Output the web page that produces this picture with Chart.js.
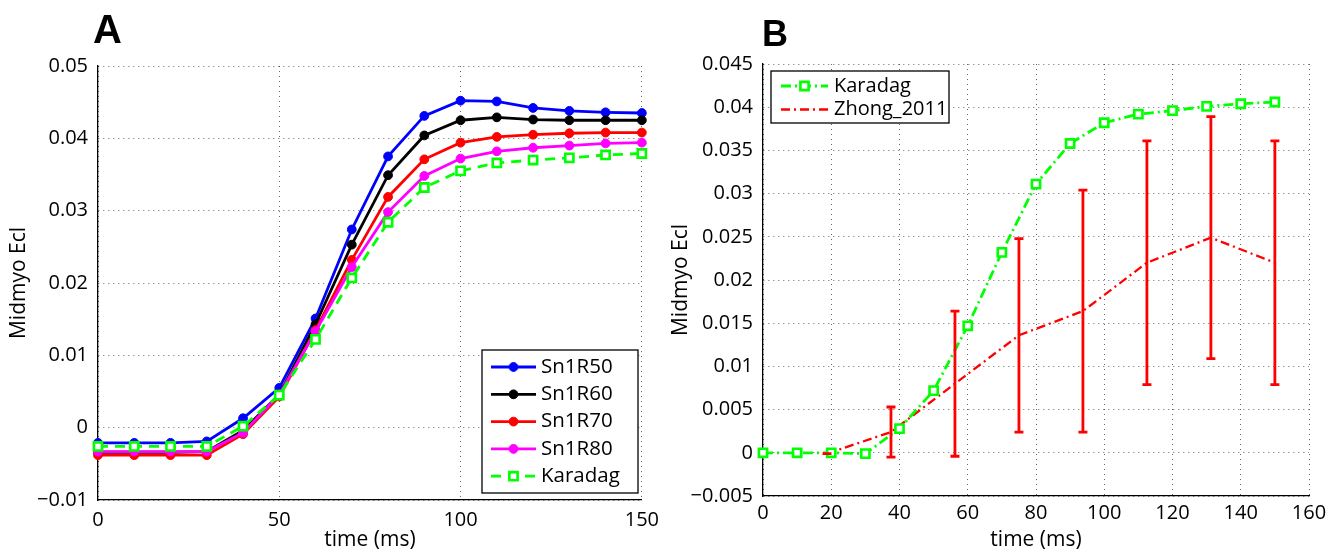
<!DOCTYPE html>
<html>
<head>
<meta charset="utf-8">
<script src="https://cdn.jsdelivr.net/npm/chart.js@4.4.0/dist/chart.umd.min.js"></script>
<style>
  body { margin: 0; background: #fff; }
  #wrap { position: relative; width: 1334px; height: 551px; overflow: hidden; }
  canvas { position: absolute; top: 0; }
  .panel { position: absolute; font-family: "Liberation Sans", Arial, sans-serif; font-weight: bold; color: #000; line-height: 1; }
</style>
</head>
<body>
<div id="wrap">
  <canvas id="chartA" width="667" height="551" style="left:0"></canvas>
  <canvas id="chartB" width="667" height="551" style="left:667px"></canvas>
  <div class="panel" style="left:93px;top:9px;font-size:40px">A</div>
  <div class="panel" style="left:762px;top:16px;font-size:36px">B</div>
</div>
<script>
// panel A
var timeA = [0, 10, 20, 30, 40, 50, 60, 70, 80, 90, 100, 110, 120, 130, 140, 150];
var sn1r50 = [-0.0021, -0.0021, -0.0021, -0.0019, 0.0013, 0.0055, 0.0151, 0.0274, 0.0375, 0.0431, 0.0452, 0.0451, 0.0442, 0.0438, 0.0436, 0.0435];
var sn1r60 = [-0.0034, -0.0034, -0.0034, -0.0033, -0.0004, 0.0046, 0.0143, 0.0253, 0.0349, 0.0404, 0.0425, 0.0429, 0.0426, 0.0425, 0.0425, 0.0425];
var sn1r70 = [-0.0038, -0.0038, -0.0038, -0.0038, -0.0009, 0.0043, 0.0135, 0.0232, 0.0319, 0.0371, 0.0394, 0.0402, 0.0405, 0.0407, 0.0408, 0.0408];
var sn1r80 = [-0.0033, -0.0033, -0.0033, -0.0033, -0.0007, 0.0046, 0.0133, 0.0222, 0.0298, 0.0348, 0.0372, 0.0382, 0.0387, 0.0390, 0.0393, 0.0394];
var karadagA = [-0.0026, -0.0026, -0.0026, -0.0026, 0.0002, 0.0045, 0.0122, 0.0207, 0.0284, 0.0332, 0.0355, 0.0366, 0.0370, 0.0373, 0.0377, 0.0379];

// panel B
var timeB = [0, 10, 20, 30, 40, 50, 60, 70, 80, 90, 100, 110, 120, 130, 140, 150];
var karadagB = [0, 0, 0, -0.0001, 0.0028, 0.0072, 0.0147, 0.0232, 0.0311, 0.0358, 0.0382, 0.0392, 0.0396, 0.0401, 0.0404, 0.0406];
var zhongTime = [18.75, 37.5, 56.25, 75, 93.75, 112.5, 131.25, 150];
var zhongMean = [-0.0001, 0.0024, 0.0080, 0.0136, 0.0164, 0.0220, 0.0249, 0.0220];
var zhongErr = [0, 0.0029, 0.0084, 0.0112, 0.0140, 0.0141, 0.0140, 0.0141];

var FONT = "'Open Sans', 'DejaVu Sans', sans-serif";

function pts(xs, ys) {
    return xs.map(function(x, i) { return {x: x, y: ys[i]}; });
}

function fmt(v) {
    return String(parseFloat(v.toFixed(4))).replace('-', '\u2212');
}

function solid(label, color, ys, order) {
    return {
        label: label, data: pts(timeA, ys), order: order,
        borderColor: color, backgroundColor: color, borderWidth: 2.8,
        pointStyle: 'circle', pointRadius: 4.4, pointBackgroundColor: color,
        pointBorderColor: color, pointBorderWidth: 1, tension: 0, clip: false
    };
}

// matlab style legend box, drawn inside the axes
var boxLegend = {
    id: 'boxLegend',
    afterDraw: function(chart, args, o) {
        var ctx = chart.ctx;
        ctx.save();
        ctx.fillStyle = '#fff';
        ctx.fillRect(o.x, o.y, o.w, o.h);
        ctx.strokeStyle = '#000';
        ctx.lineWidth = 1.3;
        ctx.strokeRect(o.x, o.y, o.w, o.h);
        chart.data.datasets.forEach(function(ds, i) {
            var y = o.y + o.first + i * o.gap;
            var x1 = o.x + o.s1, x2 = o.x + o.s2;
            ctx.save();
            ctx.strokeStyle = ds.borderColor;
            ctx.lineWidth = ds.borderWidth;
            ctx.setLineDash(ds.borderDash || []);
            ctx.beginPath();
            ctx.moveTo(x1, y);
            ctx.lineTo(x2, y);
            ctx.stroke();
            ctx.restore();
            if (ds.pointRadius > 0) {
                var cx = (x1 + x2) / 2;
                ctx.beginPath();
                if (ds.pointStyle === 'rect') {
                    var h = ds.pointRadius * Math.SQRT1_2;
                    ctx.rect(cx - h, y - h, 2 * h, 2 * h);
                } else {
                    ctx.arc(cx, y, ds.pointRadius, 0, Math.PI * 2);
                }
                ctx.fillStyle = ds.pointBackgroundColor;
                ctx.fill();
                ctx.lineWidth = ds.pointBorderWidth;
                ctx.strokeStyle = ds.pointBorderColor;
                ctx.stroke();
            }
            ctx.fillStyle = '#000';
            ctx.font = o.size + 'px ' + FONT;
            ctx.textBaseline = 'middle';
            ctx.fillText(ds.label, o.x + o.tx, y);
        });
        ctx.restore();
    }
};

var errorBars = {
    id: 'errorBars',
    afterDatasetsDraw: function(chart) {
        var ctx = chart.ctx, xs = chart.scales.x, ys = chart.scales.y;
        ctx.save();
        ctx.strokeStyle = '#ff0000';
        ctx.lineWidth = 2.8;
        for (var i = 0; i < zhongTime.length; i++) {
            var px = xs.getPixelForValue(zhongTime[i]);
            var top = ys.getPixelForValue(zhongMean[i] + zhongErr[i]);
            var bot = ys.getPixelForValue(zhongMean[i] - zhongErr[i]);
            ctx.beginPath();
            ctx.moveTo(px, top); ctx.lineTo(px, bot);
            ctx.moveTo(px - 4.5, top); ctx.lineTo(px + 4.5, top);
            ctx.moveTo(px - 4.5, bot); ctx.lineTo(px + 4.5, bot);
            ctx.stroke();
        }
        ctx.restore();
    }
};

function axes(xmin, xmax, xstep, ymin, ymax, ystep, yWidth, xHeight, yTitlePad, xTickPad) {
    var grid = {color: 'rgba(0,0,0,0.6)', lineWidth: 1, drawTicks: false};
    return {
        x: {
            type: 'linear', min: xmin, max: xmax,
            ticks: {stepSize: xstep, color: '#000', padding: xTickPad, font: {family: FONT, size: 20}, maxRotation: 0},
            grid: grid,
            border: {display: true, color: '#000', width: 1.3, dash: [1, 4]},
            title: {display: true, text: 'time (ms)', color: '#000', font: {family: FONT, size: 21}, padding: {top: 0, bottom: -2}},
            afterFit: function(s) { s.height = xHeight; }
        },
        y: {
            type: 'linear', min: ymin, max: ymax,
            ticks: {stepSize: ystep, color: '#000', padding: 10, font: {family: FONT, size: 20}, callback: fmt},
            grid: grid,
            border: {display: true, color: '#000', width: 1.3, dash: [1, 4]},
            title: {display: true, text: 'Midmyo Ecl', color: '#000', font: {family: FONT, size: 21}, padding: {top: yTitlePad, bottom: 0}},
            afterFit: function(s) { s.width = yWidth; }
        }
    };
}

new Chart(document.getElementById('chartA'), {
    type: 'line',
    data: {
        datasets: [
            solid('Sn1R50', '#0000ff', sn1r50, 5),
            solid('Sn1R60', '#000000', sn1r60, 4),
            solid('Sn1R70', '#ff0000', sn1r70, 3),
            solid('Sn1R80', '#ff00ff', sn1r80, 2),
            {
                label: 'Karadag', data: pts(timeA, karadagA), order: 1,
                borderColor: '#00ff00', borderWidth: 2.8, borderDash: [10, 7],
                pointStyle: 'rect', pointRadius: 5.8, pointBackgroundColor: '#ffffff',
                pointBorderColor: '#00ff00', pointBorderWidth: 2.6, tension: 0, clip: false
            }
        ]
    },
    options: {
        responsive: false, animation: false, devicePixelRatio: 1,
        layout: {padding: {top: 66, right: 22, left: 0, bottom: 0}},
        plugins: {
            legend: {display: false}, tooltip: {enabled: false},
            boxLegend: {x: 482, y: 350, w: 156, h: 143, first: 17, gap: 27.3, s1: 9, s2: 54, tx: 59, size: 20.5}
        },
        scales: axes(0, 150, 50, -0.01, 0.05, 0.01, 98, 51, 6, 8)
    },
    plugins: [boxLegend]
});

new Chart(document.getElementById('chartB'), {
    type: 'line',
    data: {
        datasets: [
            {
                label: 'Karadag', data: pts(timeB, karadagB),
                borderColor: '#00ff00', borderWidth: 2.8, borderDash: [10, 4, 2, 4],
                pointStyle: 'rect', pointRadius: 5.8, pointBackgroundColor: '#ffffff',
                pointBorderColor: '#00ff00', pointBorderWidth: 2.6, tension: 0, clip: false
            },
            {
                label: 'Zhong_2011', data: pts(zhongTime, zhongMean),
                borderColor: '#ff0000', borderWidth: 2.3, borderDash: [9, 4, 2, 4],
                pointRadius: 0, tension: 0, clip: false
            }
        ]
    },
    options: {
        responsive: false, animation: false, devicePixelRatio: 1,
        layout: {padding: {top: 64, right: 25, left: 0, bottom: 0}},
        plugins: {
            legend: {display: false}, tooltip: {enabled: false},
            boxLegend: {x: 104, y: 71, w: 178, h: 52, first: 15, gap: 23.5, s1: 10, s2: 57, tx: 63, size: 20}
        },
        scales: axes(0, 160, 20, -0.005, 0.045, 0.005, 96, 55, 1, 5)
    },
    plugins: [boxLegend, errorBars]
});
</script>
</body>
</html>
